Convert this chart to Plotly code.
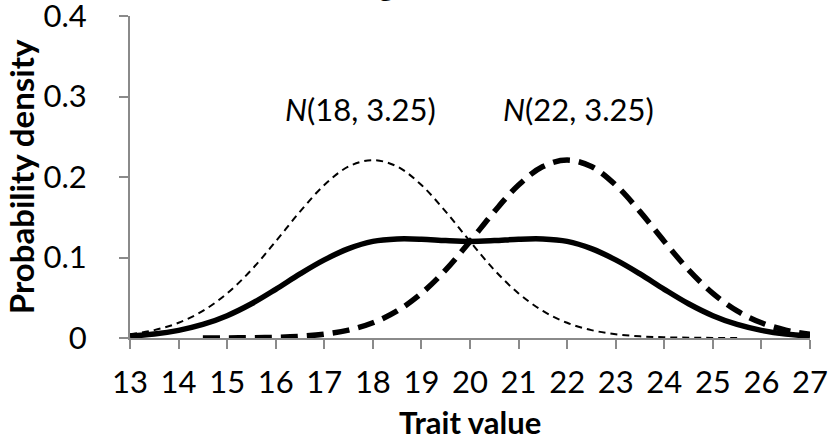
import plotly.graph_objects as go

# x grid
x_mix = [13, 13.5, 14, 14.5, 15, 15.5, 16, 16.5, 17, 17.5, 18, 18.5, 19, 19.5, 20,
         20.5, 21, 21.5, 22, 22.5, 23, 23.5, 24, 24.5, 25, 25.5, 26, 26.5, 27]
y_mix = [0.0024, 0.0049, 0.0095, 0.0168, 0.0277, 0.0425, 0.0605, 0.0796, 0.097, 0.111, 0.120, 0.123, 0.1227, 0.121, 0.120,
         0.121, 0.1227, 0.123, 0.120, 0.111, 0.097, 0.0796, 0.0605, 0.0425, 0.0277, 0.0168, 0.0095, 0.0049, 0.0024]

x_n18 = [13, 13.5, 14, 14.5, 15, 15.5, 16, 16.5, 17, 17.5, 18, 18.5, 19, 19.5, 20,
         20.5, 21, 21.5, 22, 22.5, 23, 23.5, 24, 24.5, 25, 25.5]
y_n18 = [0.0047, 0.0098, 0.0189, 0.0336, 0.0554, 0.0846, 0.120, 0.157, 0.190, 0.213, 0.221, 0.213, 0.190, 0.157, 0.120,
         0.0846, 0.0554, 0.0336, 0.0189, 0.0098, 0.0047, 0.0021, 0.0009, 0.0004, 0.0001, 0.0]

x_n22 = [14.5, 15, 15.5, 16, 16.5, 17, 17.5, 18, 18.5, 19, 19.5, 20,
         20.5, 21, 21.5, 22, 22.5, 23, 23.5, 24, 24.5, 25, 25.5, 26, 26.5, 27]
y_n22 = [0.0, 0.0001, 0.0004, 0.0009, 0.0021, 0.0047, 0.0098, 0.0189, 0.0336, 0.0554, 0.0846, 0.120,
         0.157, 0.190, 0.213, 0.221, 0.213, 0.190, 0.157, 0.120, 0.0846, 0.0554, 0.0336, 0.0189, 0.0098, 0.0047]

x_ticks = list(range(13, 28))
y_ticks = [0, 0.1, 0.2, 0.3, 0.4]
y_tick_text = ["0", "0.1", "0.2", "0.3", "0.4"]

label_18 = "<i>N</i>(18, 3.25)"
label_22 = "<i>N</i>(22, 3.25)"
x_title = "Trait value"
y_title = "Probability density"

FONT = "Lato"
AXC = "#8a8a8a"
TS = 31

fig = go.Figure()
fig.add_trace(go.Scatter(x=x_mix, y=y_mix, mode="lines", line=dict(color="black", width=5.5, shape="spline"),
                         showlegend=False, hoverinfo="skip"))
fig.add_trace(go.Scatter(x=x_n18, y=y_n18, mode="lines",
                         line=dict(color="black", width=2, dash="7px,5px", shape="spline"),
                         showlegend=False, hoverinfo="skip"))
fig.add_trace(go.Scatter(x=x_n22, y=y_n22, mode="lines",
                         line=dict(color="black", width=5.5, dash="17px,9px", shape="spline"),
                         showlegend=False, hoverinfo="skip"))

fig.update_layout(
    width=836, height=448,
    margin=dict(l=130, r=26, t=16, b=110, autoexpand=False),
    paper_bgcolor="white", plot_bgcolor="white",
    font=dict(family=FONT, size=TS, color="black"),
    xaxis=dict(range=[13, 27], tickmode="array", tickvals=x_ticks, ticktext=[str(v) for v in x_ticks],
               showgrid=False, zeroline=False, showline=True, linecolor=AXC, linewidth=2, automargin=False,
               ticks="outside", ticklen=9, tickwidth=2, tickcolor=AXC, ticklabeloverflow="allow",
               tickfont=dict(family=FONT, size=TS, color="black"), ticklabelstandoff=7),
    yaxis=dict(range=[0, 0.4], tickmode="array", tickvals=y_ticks, ticktext=y_tick_text,
               showgrid=False, zeroline=False, showline=True, linecolor=AXC, linewidth=2, automargin=False,
               ticks="outside", ticklen=9, tickwidth=2, tickcolor=AXC, ticklabeloverflow="allow",
               tickfont=dict(family=FONT, size=TS, color="black"), ticklabelstandoff=26),
)

fig.add_annotation(x=17.74, y=0.285, xref="x", yref="y", text=label_18, showarrow=False,
                   xanchor="center", yanchor="middle", font=dict(family=FONT, size=TS, color="black"))
fig.add_annotation(x=22.24, y=0.285, xref="x", yref="y", text=label_22, showarrow=False,
                   xanchor="center", yanchor="middle", font=dict(family=FONT, size=TS, color="black"))
fig.add_annotation(x=0.5, y=-0.26, xref="paper", yref="paper", text="<b>%s</b>" % x_title, showarrow=False,
                   xanchor="center", yanchor="middle", font=dict(family=FONT, size=31, color="black"))
fig.add_annotation(x=-0.16, y=0.5, xref="paper", yref="paper", text="<b>%s</b>" % y_title, showarrow=False,
                   xanchor="center", yanchor="middle", textangle=-90,
                   font=dict(family=FONT, size=33, color="black"))
# cut-off title descender at top of the canvas
fig.add_annotation(x=0.376, y=1.036, xref="paper", yref="paper", text="<b>g</b>", showarrow=False,
                   xanchor="center", yanchor="bottom", font=dict(family=FONT, size=30, color="black"))

fig.write_html("out.html", config={"displayModeBar": False},
               post_script="document.body.style.margin='0';document.body.style.padding='0';")
